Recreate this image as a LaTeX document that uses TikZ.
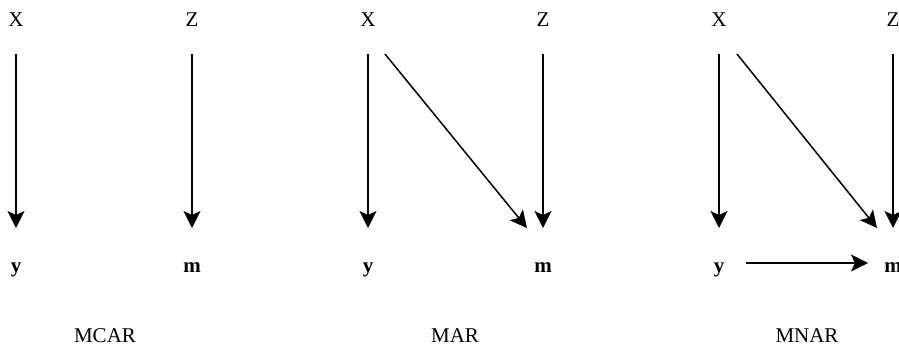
\documentclass[tikz,border=0pt]{standalone}
\usepackage{fontspec}
\setmainfont{Liberation Serif}
\usetikzlibrary{arrows.meta,positioning}

\begin{document}
\begin{tikzpicture}[
    x=1pt, y=-1pt,
    var/.style={anchor=base, inner sep=0pt, font=\fontsize{21}{25}\selectfont},
    ind/.style={var, font=\fontsize{21}{25}\selectfont\bfseries},
    mech/.style={anchor=base, inner sep=0pt, font=\fontsize{21}{25}\selectfont},
    arr/.style={-{Stealth[length=17pt, width=17pt, inset=4pt]}, line width=1.5pt}
]
\useasboundingbox (0,0) rectangle (899,345);

% MCAR
\node[var] (x1) at (16,27) {X};
\node[var] (z1) at (192,27) {Z};
\node[ind] (y1) at (16,272) {y};
\node[ind] (m1) at (192,272) {m};
\node[mech] (c1) at (105,342) {MCAR};
\draw[arr] ([shift={(0,27)}]x1.base) -- ([shift={(0,-44)}]y1.base);
\draw[arr] ([shift={(0,27)}]z1.base) -- ([shift={(0,-44)}]m1.base);

% MAR
\node[var] (x2) at (368,27) {X};
\node[var] (z2) at (543,27) {Z};
\node[ind] (y2) at (368,272) {y};
\node[ind] (m2) at (543,272) {m};
\node[mech] (c2) at (455,342) {MAR};
\draw[arr] ([shift={(0,27)}]x2.base) -- ([shift={(0,-44)}]y2.base);
\draw[arr] ([shift={(0,27)}]z2.base) -- ([shift={(0,-44)}]m2.base);
\draw[arr] ([shift={(17,27)}]x2.base) -- ([shift={(-16,-44)}]m2.base);

% MNAR
\node[var] (x3) at (719,27) {X};
\node[var] (z3) at (893,27) {Z};
\node[ind] (y3) at (719,272) {y};
\node[ind] (m3) at (893,272) {m};
\node[mech] (c3) at (807,342) {MNAR};
\draw[arr] ([shift={(0,27)}]x3.base) -- ([shift={(0,-44)}]y3.base);
\draw[arr] ([shift={(0,27)}]z3.base) -- ([shift={(0,-44)}]m3.base);
\draw[arr] ([shift={(18,27)}]x3.base) -- ([shift={(-16,-44)}]m3.base);
\draw[arr] ([shift={(27,-9)}]y3.base) -- ([shift={(-25,-9)}]m3.base);
\end{tikzpicture}
\end{document}
